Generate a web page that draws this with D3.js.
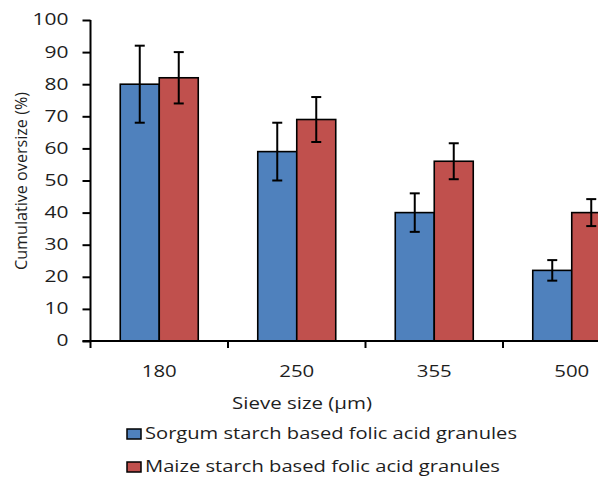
<!DOCTYPE html>
<html><head><meta charset="utf-8">
<script src="https://cdn.jsdelivr.net/npm/d3@7"></script>
<style>html,body{margin:0;padding:0;background:#fff;overflow:hidden}</style>
</head><body>
<svg id="c" width="598" height="477"></svg>
<script>
const categories = ["180", "250", "355", "500"];
const seriesNames = ["Sorgum starch based folic acid granules", "Maize starch based folic acid granules"];
const sorgumValues = [80, 59, 40, 22];
const sorgumErrors = [12, 9, 6, 3.2];
const maizeValues = [82, 69, 56, 40];
const maizeErrors = [8, 7, 5.6, 4.2];
const yTicks = [0, 10, 20, 30, 40, 50, 60, 70, 80, 90, 100];
const colors = ["#4F81BD", "#C0504D"];

(function () {
const svg = d3.select("#c");
const plotLeft = 90.5, plotTop = 20, plotBottom = 341;
const x = d3.scaleBand().domain(categories).range([plotLeft, plotLeft + 550]).padding(0);
const xs = d3.scaleBand().domain([0, 1]).range([0, x.bandwidth()]).paddingInner(0).paddingOuter(0.763);
const y = d3.scaleLinear().domain([0, 100]).range([plotBottom, plotTop]);

const font = "'Open Sans', 'Noto Sans', sans-serif";
const textColor = "#1e1e1e";
const data = [];
categories.forEach((c, i) => {
  data.push({c, s: 0, v: sorgumValues[i], e: sorgumErrors[i]});
  data.push({c, s: 1, v: maizeValues[i], e: maizeErrors[i]});
});

// bars
svg.append("g").selectAll("rect").data(data).join("rect")
  .attr("x", d => x(d.c) + xs(d.s))
  .attr("y", d => y(d.v))
  .attr("width", xs.bandwidth())
  .attr("height", d => y(0) - y(d.v))
  .attr("fill", d => colors[d.s])
  .attr("stroke", "#000").attr("stroke-width", 1.6);

// error bars
const eb = svg.append("g").attr("stroke", "#000").attr("stroke-width", 2);
data.forEach(d => {
  const cx = x(d.c) + xs(d.s) + xs.bandwidth() / 2;
  eb.append("line").attr("x1", cx).attr("x2", cx).attr("y1", y(d.v + d.e)).attr("y2", y(d.v - d.e));
  eb.append("line").attr("x1", cx - 5).attr("x2", cx + 5).attr("y1", y(d.v + d.e)).attr("y2", y(d.v + d.e));
  eb.append("line").attr("x1", cx - 5).attr("x2", cx + 5).attr("y1", y(d.v - d.e)).attr("y2", y(d.v - d.e));
});

// y axis
const ya = svg.append("g").attr("transform", `translate(${plotLeft},0)`)
  .call(d3.axisLeft(y).tickValues(yTicks).tickSize(8).tickPadding(14));
ya.select(".domain").attr("stroke", "#000").attr("stroke-width", 2).attr("d", `M0,${plotTop}V${plotBottom}`);
ya.selectAll(".tick line").attr("stroke", "#000").attr("stroke-width", 2);
ya.selectAll(".tick text").attr("font-family", font).attr("font-size", 15.5).attr("fill", textColor)
  .attr("textLength", d => String(d).length * 12).attr("lengthAdjust", "spacingAndGlyphs");

// x axis
const xa = svg.append("g").attr("transform", `translate(0,${plotBottom})`);
xa.append("line").attr("x1", plotLeft - 8).attr("x2", 640).attr("y1", 0).attr("y2", 0).attr("stroke", "#000").attr("stroke-width", 2);
xa.selectAll(".xt").data(categories).join("line").attr("class", "xt")
  .attr("x1", d => x(d)).attr("x2", d => x(d)).attr("y1", 0).attr("y2", 7)
  .attr("stroke", "#000").attr("stroke-width", 2);
xa.selectAll(".xl").data(categories).join("text").attr("class", "xl")
  .attr("x", d => x(d) + x.bandwidth() / 2).attr("y", 36)
  .attr("text-anchor", "middle").attr("font-family", font).attr("font-size", 16).attr("fill", textColor)
  .attr("textLength", 35).attr("lengthAdjust", "spacingAndGlyphs").text(d => d);

// axis titles
svg.append("text").attr("x", 302).attr("y", 409).attr("text-anchor", "middle")
  .attr("font-family", font).attr("font-size", 16.5).attr("fill", textColor)
  .attr("textLength", 140).attr("lengthAdjust", "spacingAndGlyphs").text("Sieve size (\u03bcm)");
svg.append("text").attr("transform", "translate(27,181) rotate(-90)").attr("text-anchor", "middle")
  .attr("font-family", font).attr("font-size", 15.5).attr("fill", textColor)
  .attr("textLength", 178).attr("lengthAdjust", "spacingAndGlyphs").text("Cumulative oversize (%)");

// legend
const legendY = [429, 462];
const legendLen = [372, 355];
seriesNames.forEach((n, i) => {
  svg.append("rect").attr("x", 127).attr("y", legendY[i]).attr("width", 14).attr("height", 10)
    .attr("fill", colors[i]).attr("stroke", "#000").attr("stroke-width", 1.5);
  svg.append("text").attr("x", 145).attr("y", legendY[i] + 10)
    .attr("font-family", font).attr("font-size", 15.5).attr("fill", textColor)
    .attr("textLength", legendLen[i]).attr("lengthAdjust", "spacingAndGlyphs").text(n);
});
})();
</script>
</body></html>
